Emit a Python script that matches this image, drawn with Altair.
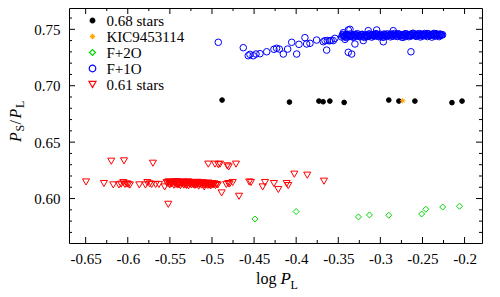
import altair as alt
import pandas as pd

# ---------------- data ----------------
series_names = ["0.68 stars", "KIC9453114", "F+2O", "F+1O", "0.61 stars"]

black_x = [-0.488, -0.408, -0.373, -0.368, -0.360, -0.343, -0.290, -0.278, -0.259, -0.215, -0.203]
black_y = [0.6873, 0.6855, 0.6864, 0.6858, 0.6864, 0.6852, 0.6873, 0.6864, 0.6864, 0.6850, 0.6864]

kic_x = [-0.2735]
kic_y = [0.6867]

green_x = [-0.449, -0.400, -0.326, -0.313, -0.290, -0.251, -0.246, -0.226, -0.206]
green_y = [0.5819, 0.5885, 0.5837, 0.5855, 0.5852, 0.5863, 0.5905, 0.5925, 0.5932]

red_x = [-0.6496, -0.6283, -0.6196, -0.6172, -0.6104, -0.6045, -0.6053, -0.6033, -0.5994, -0.5863,
         -0.5768, -0.5716, -0.5701, -0.5669, -0.5630, -0.5562, -0.5519, -0.5538, -0.5499, -0.5044,
         -0.4964, -0.4925, -0.4905, -0.4818, -0.4802, -0.4885, -0.4806, -0.4754, -0.4715, -0.4679,
         -0.4557, -0.4537, -0.4398, -0.4370, -0.4264, -0.4212, -0.4113, -0.4094, -0.4022, -0.3868,
         -0.3670, -0.6080, -0.6010, -0.5975, -0.4830, -0.4790, -0.5790, -0.5740]
red_y = [0.6147, 0.6133, 0.6331, 0.6121, 0.6121, 0.6334, 0.6142, 0.6125, 0.6125, 0.6121,
         0.6142, 0.6125, 0.6313, 0.6125, 0.6125, 0.6103, 0.5949, 0.6142, 0.6142, 0.6305,
         0.6305, 0.6300, 0.6305, 0.6290, 0.6280, 0.6050, 0.6133, 0.6142, 0.6305, 0.6020,
         0.6147, 0.6142, 0.6103, 0.6142, 0.6133, 0.6080, 0.6133, 0.6115, 0.6216, 0.6207,
         0.6154, 0.6128, 0.6130, 0.6120, 0.6125, 0.6130, 0.6120, 0.6130]

red_cluster_x = [-0.5530, -0.5515, -0.5500, -0.5490, -0.5478, -0.5465, -0.5452, -0.5440, -0.5431, -0.5420,
                 -0.5410, -0.5398, -0.5388, -0.5375, -0.5366, -0.5355, -0.5344, -0.5333, -0.5322, -0.5310,
                 -0.5301, -0.5290, -0.5279, -0.5268, -0.5257, -0.5246, -0.5235, -0.5224, -0.5213, -0.5202,
                 -0.5191, -0.5180, -0.5169, -0.5158, -0.5147, -0.5136, -0.5125, -0.5114, -0.5103, -0.5092,
                 -0.5081, -0.5070, -0.5059, -0.5048, -0.5037, -0.5026, -0.5015, -0.5004, -0.4993, -0.4982,
                 -0.4970, -0.4958, -0.4945, -0.4932,
                 -0.5505, -0.5470, -0.5445, -0.5415, -0.5392, -0.5370, -0.5348, -0.5327, -0.5305, -0.5284,
                 -0.5262, -0.5240, -0.5218, -0.5196, -0.5174, -0.5152, -0.5130, -0.5108, -0.5086, -0.5064,
                 -0.5042, -0.5020, -0.4998, -0.4976]
red_cluster_y = [0.6135, 0.6148, 0.6122, 0.6140, 0.6130, 0.6145, 0.6118, 0.6138, 0.6127, 0.6150,
                 0.6120, 0.6133, 0.6142, 0.6115, 0.6136, 0.6128, 0.6147, 0.6119, 0.6131, 0.6140,
                 0.6124, 0.6137, 0.6112, 0.6129, 0.6143, 0.6121, 0.6134, 0.6126, 0.6139, 0.6117,
                 0.6131, 0.6123, 0.6136, 0.6110, 0.6128, 0.6141, 0.6119, 0.6132, 0.6125, 0.6103,
                 0.6130, 0.6121, 0.6134, 0.6116, 0.6127, 0.6123, 0.6131, 0.6118, 0.6126, 0.6122,
                 0.6129, 0.6115, 0.6124, 0.6120,
                 0.6125, 0.6137, 0.6146, 0.6128, 0.6121, 0.6144, 0.6133, 0.6139, 0.6116, 0.6148,
                 0.6130, 0.6140, 0.6122, 0.6135, 0.6144, 0.6127, 0.6133, 0.6140, 0.6120, 0.6131,
                 0.6137, 0.6114, 0.6133, 0.6127]

blue_x = [-0.4925, -0.4628, -0.4569, -0.4549, -0.4510, -0.4477, -0.4430, -0.4350, -0.4264, -0.4232,
          -0.4200, -0.4153, -0.4101, -0.4053, -0.3994, -0.3967, -0.3896, -0.3876, -0.3836, -0.3757,
          -0.3678, -0.3638, -0.3658, -0.3630, -0.3605, -0.3585, -0.3560, -0.3540, -0.3440, -0.3420,
          -0.3381, -0.3361, -0.3381, -0.3341, -0.3302, -0.3144, -0.3044, -0.2965, -0.2847, -0.2728,
          -0.2637, -0.2292, -0.3203, -0.2272]
blue_y = [0.7385, 0.7337, 0.7266, 0.7278, 0.7266, 0.7281, 0.7284, 0.7301, 0.7323, 0.7332,
          0.7325, 0.7281, 0.7325, 0.7385, 0.7281, 0.7367, 0.7426, 0.7370, 0.7376, 0.7405,
          0.7390, 0.7316, 0.7399, 0.7401, 0.7398, 0.7402, 0.7400, 0.7420, 0.7470, 0.7411,
          0.7494, 0.7500, 0.7296, 0.7281, 0.7370, 0.7488, 0.7494, 0.7390, 0.7488, 0.7429,
          0.7301, 0.7456, 0.7400, 0.7450]

blue_cluster_x = [-0.3460, -0.3443, -0.3426, -0.3409, -0.3392, -0.3375, -0.3358, -0.3341, -0.3324, -0.3307,
                  -0.3290, -0.3273, -0.3256, -0.3239, -0.3222, -0.3205, -0.3188, -0.3171, -0.3154, -0.3137,
                  -0.3120, -0.3103, -0.3086, -0.3069, -0.3052, -0.3035, -0.3018, -0.3001, -0.2984, -0.2967,
                  -0.2950, -0.2933, -0.2916, -0.2899, -0.2882, -0.2865, -0.2848, -0.2831, -0.2814, -0.2797,
                  -0.2780, -0.2763, -0.2746, -0.2729, -0.2712, -0.2695, -0.2678, -0.2661, -0.2644, -0.2627,
                  -0.2610, -0.2593, -0.2576, -0.2559, -0.2542, -0.2525, -0.2508, -0.2491, -0.2474, -0.2457,
                  -0.2440, -0.2423, -0.2406, -0.2389, -0.2372, -0.2355, -0.2338, -0.2321, -0.2304, -0.2287,
                  -0.3451, -0.3417, -0.3383, -0.3349, -0.3315, -0.3281, -0.3247, -0.3213, -0.3179, -0.3145,
                  -0.3111, -0.3077, -0.3043, -0.3009, -0.2975, -0.2941, -0.2907, -0.2873, -0.2839, -0.2805,
                  -0.2771, -0.2737, -0.2703, -0.2669, -0.2635, -0.2601, -0.2567, -0.2533, -0.2499, -0.2465,
                  -0.2431, -0.2397, -0.2363, -0.2329, -0.2295, -0.2261,
                  -0.3435, -0.3400, -0.3366, -0.3332, -0.3298, -0.3264, -0.3230, -0.3196, -0.3162, -0.3128,
                  -0.3094, -0.3060, -0.3026, -0.2992, -0.2958, -0.2924, -0.2890, -0.2856, -0.2822, -0.2788,
                  -0.2754, -0.2720, -0.2686, -0.2652, -0.2618, -0.2584, -0.2550, -0.2516, -0.2482, -0.2448,
                  -0.2414, -0.2380, -0.2346, -0.2312, -0.2278]
blue_cluster_y = [0.7432, 0.7455, 0.7441, 0.7427, 0.7450, 0.7436, 0.7458, 0.7444, 0.7430, 0.7452,
                  0.7439, 0.7461, 0.7446, 0.7433, 0.7455, 0.7442, 0.7428, 0.7450, 0.7437, 0.7459,
                  0.7445, 0.7431, 0.7453, 0.7440, 0.7462, 0.7448, 0.7434, 0.7456, 0.7443, 0.7429,
                  0.7451, 0.7438, 0.7460, 0.7447, 0.7433, 0.7455, 0.7441, 0.7463, 0.7449, 0.7436,
                  0.7457, 0.7444, 0.7430, 0.7452, 0.7439, 0.7461, 0.7448, 0.7435, 0.7456, 0.7443,
                  0.7465, 0.7450, 0.7437, 0.7459, 0.7446, 0.7432, 0.7454, 0.7441, 0.7463, 0.7449,
                  0.7436, 0.7458, 0.7445, 0.7431, 0.7453, 0.7440, 0.7462, 0.7448, 0.7435, 0.7457,
                  0.7447, 0.7438, 0.7452, 0.7443, 0.7435, 0.7449, 0.7440, 0.7454, 0.7445, 0.7437,
                  0.7451, 0.7442, 0.7456, 0.7447, 0.7439, 0.7453, 0.7444, 0.7458, 0.7449, 0.7441,
                  0.7455, 0.7446, 0.7460, 0.7451, 0.7443, 0.7457, 0.7448, 0.7462, 0.7453, 0.7445,
                  0.7459, 0.7450, 0.7464, 0.7455, 0.7447, 0.7452,
                  0.7440, 0.7450, 0.7437, 0.7446, 0.7455, 0.7441, 0.7450, 0.7436, 0.7447, 0.7457,
                  0.7443, 0.7452, 0.7438, 0.7448, 0.7458, 0.7444, 0.7453, 0.7439, 0.7449, 0.7460,
                  0.7445, 0.7455, 0.7441, 0.7451, 0.7461, 0.7447, 0.7456, 0.7442, 0.7452, 0.7462,
                  0.7448, 0.7457, 0.7443, 0.7453, 0.7450]

x_major = [-0.65, -0.6, -0.55, -0.5, -0.45, -0.4, -0.35, -0.3, -0.25, -0.2]
x_minor = [-0.625, -0.575, -0.525, -0.475, -0.425, -0.375, -0.325, -0.275, -0.225]
y_major = [0.60, 0.65, 0.70, 0.75]
y_minor = [0.57, 0.58, 0.59, 0.61, 0.62, 0.63, 0.64, 0.66, 0.67, 0.68, 0.69,
           0.71, 0.72, 0.73, 0.74, 0.76]

# ---------------- build table ----------------
rows = []
for name, xs, ys in [
    ("F+1O", blue_x + blue_cluster_x, blue_y + blue_cluster_y),
    ("0.61 stars", red_x + red_cluster_x, red_y + red_cluster_y),
    ("F+2O", green_x, green_y),
    ("0.68 stars", black_x, black_y),
    ("KIC9453114", kic_x, kic_y),
]:
    for a, b in zip(xs, ys):
        rows.append({"x": a, "y": b, "series": name})
df = pd.DataFrame(rows)
df["order"] = range(len(df))

W, H = 413, 235
FONT = "Liberation Serif"
xscale = alt.Scale(domain=[-0.6698, -0.1793], nice=False, zero=False)
yscale = alt.Scale(domain=[0.5606, 0.7689], nice=False, zero=False)

star = "M-1,0L1,0M0,-1L0,1M-0.7,-0.7L0.7,0.7M-0.7,0.7L0.7,-0.7"
shape_range = ["circle", star, "diamond", "circle", "triangle-down"]
stroke_range = ["black", "#ffa500", "#00d800", "#0000ff", "#ff0000"]
fill_range = ["black", "transparent", "transparent", "transparent", "transparent"]
size_range = [22, 50, 36, 40, 40]

legend = alt.Legend(title=None, orient="none", legendX=16, legendY=5,
                    labelFont=FONT, labelFontSize=15, labelColor="black",
                    labelOffset=6.5, rowPadding=-1.5, padding=0,
                    symbolStrokeWidth=1.2, symbolOpacity=1)

points = alt.Chart(df).mark_point(filled=True, strokeWidth=1, opacity=1).encode(
    x=alt.X("x:Q", scale=xscale,
            axis=alt.Axis(values=x_major, title=None, ticks=False, tickSize=0, domain=False,
                          grid=False, labelFont=FONT, labelFontSize=15, labelColor="black",
                          labelPadding=8, labelFlush=False,
                          labelExpr="replace(format(datum.value, '~g'), '\u2212', '-')")),
    y=alt.Y("y:Q", scale=yscale,
            axis=alt.Axis(values=y_major, title=None, ticks=False, tickSize=0, domain=False,
                          grid=False, labelFont=FONT, labelFontSize=15, labelColor="black",
                          labelPadding=9, format=".2f")),
    shape=alt.Shape("series:N", scale=alt.Scale(domain=series_names, range=shape_range), legend=legend),
    stroke=alt.Stroke("series:N", scale=alt.Scale(domain=series_names, range=stroke_range), legend=legend),
    fill=alt.Fill("series:N", scale=alt.Scale(domain=series_names, range=fill_range), legend=legend),
    size=alt.Size("series:N", scale=alt.Scale(domain=series_names, range=size_range), legend=legend),
    order=alt.Order("order:Q"),
)

def xticks(vals, length):
    d = pd.DataFrame({"v": vals})
    base = alt.Chart(d).mark_rule(color="black", strokeWidth=1)
    bottom = base.encode(x=alt.X("v:Q", scale=xscale), y=alt.value(H), y2=alt.value(H - length))
    top = base.encode(x=alt.X("v:Q", scale=xscale), y=alt.value(0), y2=alt.value(length))
    return [bottom, top]

def yticks(vals, length):
    d = pd.DataFrame({"v": vals})
    base = alt.Chart(d).mark_rule(color="black", strokeWidth=1)
    left = base.encode(y=alt.Y("v:Q", scale=yscale), x=alt.value(0), x2=alt.value(length))
    right = base.encode(y=alt.Y("v:Q", scale=yscale), x=alt.value(W), x2=alt.value(W - length))
    return [left, right]

def label(text, x, y, size, style="normal", angle=0):
    return alt.Chart(pd.DataFrame({"t": [text]})).mark_text(
        font=FONT, fontSize=size, fontStyle=style, align="left", baseline="alphabetic",
        angle=angle, color="black").encode(text="t:N", x=alt.value(x), y=alt.value(y))

titles = [
    # y title  P_S / P_L  (rotated)
    label("P", -48.5, 134, 16, "italic", 270),
    label("S", -45, 123.5, 12, "normal", 270),
    label("/", -48.5, 116.5, 16, "normal", 270),
    label("P", -48.5, 110.5, 16, "italic", 270),
    label("L", -45, 100, 12, "normal", 270),
    # x title  log P_L
    label("log", 187, 276, 16),
    label("P", 211.5, 276, 17, "italic"),
    label("L", 221.5, 281, 12),
]

chart = alt.layer(
    points,
    *xticks(x_major, 6), *xticks(x_minor, 3),
    *yticks(y_major, 6), *yticks(y_minor, 3),
    *titles,
).properties(
    width=W, height=H,
    background="white",
    autosize=alt.AutoSizeParams(type="none"),
    padding={"left": 61, "top": 0, "right": 10, "bottom": 52},
).configure(font=FONT
).configure_view(stroke="black", strokeWidth=1
).configure_legend(labelFont=FONT, labelFontSize=15, symbolOpacity=1
).configure_axis(labelFont=FONT, labelFontSize=15, labelColor="black")

chart.save("out.html", embed_options={"renderer": "svg", "actions": False})
